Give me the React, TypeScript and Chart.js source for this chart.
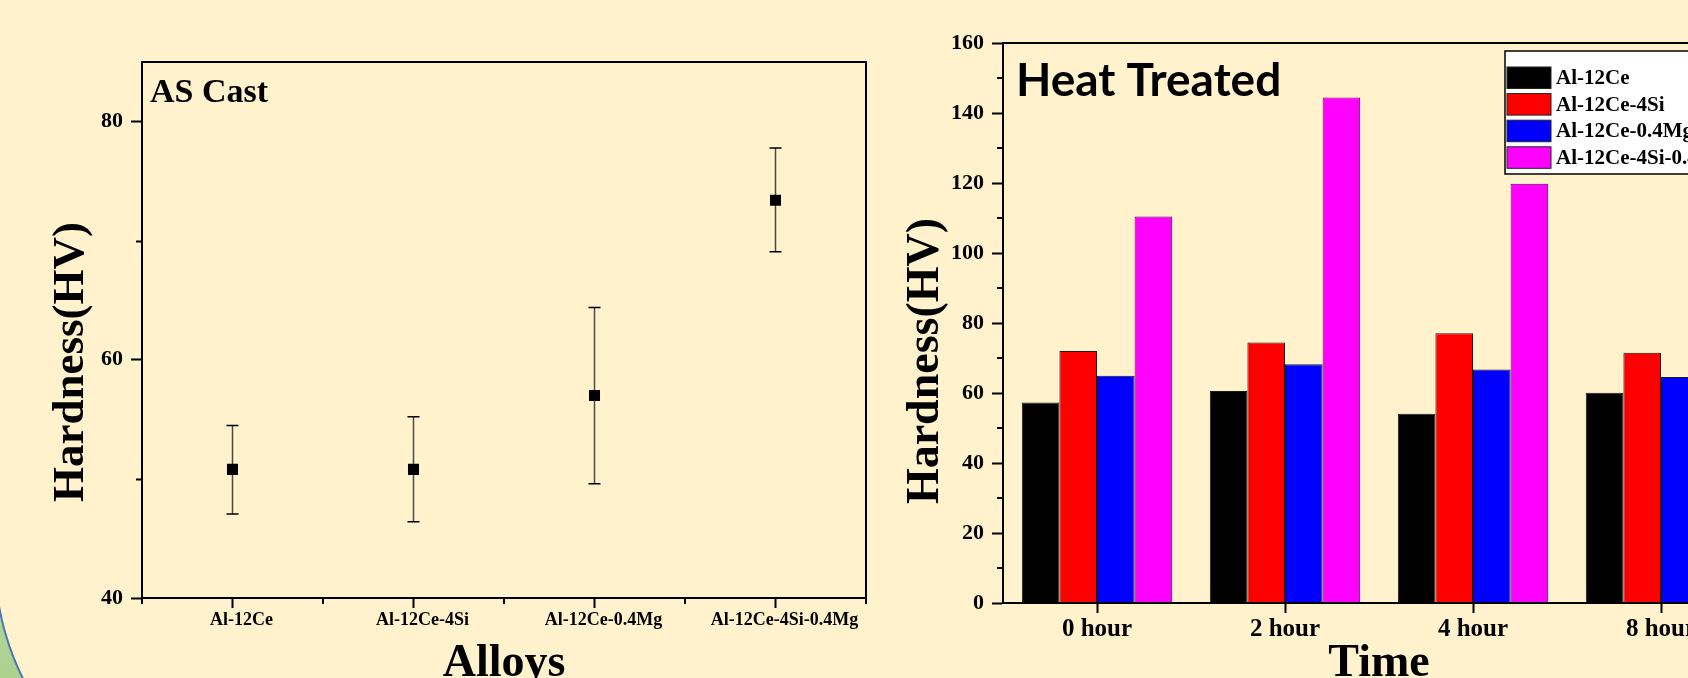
import React, { useEffect, useRef } from 'react';
import { Chart, registerables } from 'chart.js';

Chart.register(...registerables);

// ---------- Left chart data (AS Cast) ----------
const alloys = ['Al-12Ce', 'Al-12Ce-4Si', 'Al-12Ce-0.4Mg', 'Al-12Ce-4Si-0.4Mg'];
const asCastHardness = [50.8, 50.8, 57.0, 73.4];
const asCastErrLow = [47.05, 46.4, 49.6, 69.06];
const asCastErrHigh = [54.48, 55.21, 64.38, 77.79];
const asCastMinorTicks = [50, 70];

// ---------- Right chart data (Heat Treated) ----------
const times = ['0 hour', '2 hour', '4 hour', '8 hour'];
const seriesNames = ['Al-12Ce', 'Al-12Ce-4Si', 'Al-12Ce-0.4Mg', 'Al-12Ce-4Si-0.4Mg'];
const al12Ce = [57.3, 60.6, 54.1, 60.1];
const al12Ce4Si = [72.0, 74.4, 77.1, 71.5];
const al12Ce04Mg = [64.9, 68.2, 66.7, 64.6];
const al12Ce4Si04Mg = [110.4, 144.4, 119.8, 112.0];
const seriesColors = ['#000000', '#FF0000', '#0000FF', '#FF00FF'];
const heatMinorTicks = [10, 30, 50, 70, 90, 110, 130, 150];

const SERIF = '"Liberation Serif", "Times New Roman", serif';
const yTitle = 'Hardness(HV)';

const leftPlugin = {
  id: 'leftDecor',
  beforeDatasetsDraw(chart: any) {
    const ctx = chart.ctx;
    const xs = chart.scales.x;
    const ys = chart.scales.y;
    ctx.save();
    for (let i = 0; i < alloys.length; i++) {
      const px = xs.getPixelForValue(i);
      const yl = ys.getPixelForValue(asCastErrLow[i]);
      const yh = ys.getPixelForValue(asCastErrHigh[i]);
      ctx.strokeStyle = '#4a4a4a';
      ctx.lineWidth = 1.5;
      ctx.beginPath();
      ctx.moveTo(px, yl);
      ctx.lineTo(px, yh);
      ctx.stroke();
      ctx.strokeStyle = '#000';
      ctx.beginPath();
      ctx.moveTo(px - 6, yl);
      ctx.lineTo(px + 6, yl);
      ctx.moveTo(px - 6, yh);
      ctx.lineTo(px + 6, yh);
      ctx.stroke();
    }
    ctx.restore();
  },
  afterDraw(chart: any) {
    const ctx = chart.ctx;
    const a = chart.chartArea;
    const xs = chart.scales.x;
    const ys = chart.scales.y;
    ctx.save();
    ctx.strokeStyle = '#000';
    ctx.lineWidth = 2;
    ctx.strokeRect(a.left, a.top, a.right - a.left, a.bottom - a.top);
    // minor y ticks
    ctx.beginPath();
    asCastMinorTicks.forEach((v) => {
      const py = Math.round(ys.getPixelForValue(v)) + 0.5;
      ctx.moveTo(a.left - 6, py);
      ctx.lineTo(a.left, py);
    });
    // minor x ticks at category boundaries
    const n = alloys.length;
    const step = (xs.getPixelForValue(1) - xs.getPixelForValue(0));
    for (let i = 0; i <= n; i++) {
      const px = Math.round(xs.getPixelForValue(0) - step / 2 + i * step);
      ctx.moveTo(px, a.bottom);
      ctx.lineTo(px, a.bottom + 6);
    }
    ctx.lineWidth = 2;
    ctx.stroke();
    // inner label
    ctx.fillStyle = '#000';
    ctx.font = `bold 34px ${SERIF}`;
    ctx.textAlign = 'left';
    ctx.textBaseline = 'alphabetic';
    ctx.fillText('AS Cast', a.left + 8, a.top + 40);
    // y title
    ctx.save();
    ctx.translate(83, 362);
    ctx.rotate(-Math.PI / 2);
    ctx.font = `bold 45px ${SERIF}`;
    ctx.textAlign = 'center';
    ctx.fillText(yTitle, 0, 0);
    ctx.restore();
    ctx.restore();
  },
};

const rightPlugin = {
  id: 'rightDecor',
  afterDraw(chart: any) {
    const ctx = chart.ctx;
    const a = chart.chartArea;
    const ys = chart.scales.y;
    ctx.save();
    ctx.strokeStyle = '#000';
    ctx.lineWidth = 2;
    ctx.strokeRect(a.left, a.top, a.right - a.left, a.bottom - a.top);
    ctx.beginPath();
    heatMinorTicks.forEach((v) => {
      const py = Math.round(ys.getPixelForValue(v));
      ctx.moveTo(a.left - 6, py);
      ctx.lineTo(a.left, py);
    });
    ctx.stroke();
    // inner label
    ctx.fillStyle = '#000';
    ctx.font = `bold 46px Lato, "Open Sans", sans-serif`;
    ctx.textAlign = 'left';
    ctx.textBaseline = 'alphabetic';
    ctx.fillText('Heat Treated', a.left + 13, a.top + 53);
    // legend
    const lx = 625;
    const ly = 51;
    ctx.fillStyle = '#ffffff';
    ctx.fillRect(lx, ly, 300, 123);
    ctx.lineWidth = 1.5;
    ctx.strokeStyle = '#000';
    ctx.strokeRect(lx, ly, 300, 123);
    chart.data.datasets.forEach((ds: any, i: number) => {
      const y0 = 67 + i * 26.6;
      ctx.fillStyle = ds.backgroundColor;
      ctx.fillRect(lx + 2, y0, 44, 21.5);
      ctx.lineWidth = 1;
      ctx.strokeStyle = '#222';
      ctx.strokeRect(lx + 2, y0, 44, 21.5);
      ctx.fillStyle = '#000';
      ctx.font = `bold 21px ${SERIF}`;
      ctx.textBaseline = 'middle';
      ctx.fillText(ds.label, lx + 51, y0 + 11.5);
    });
    // y title
    ctx.save();
    ctx.translate(58, 361);
    ctx.rotate(-Math.PI / 2);
    ctx.font = `bold 46px ${SERIF}`;
    ctx.textAlign = 'center';
    ctx.textBaseline = 'alphabetic';
    ctx.fillText(yTitle, 0, 0);
    ctx.restore();
    ctx.restore();
  },
};

function axisFont(size: number) {
  return { family: SERIF, weight: 'bold' as const, size };
}

export default function App() {
  const leftRef = useRef<HTMLCanvasElement>(null);
  const rightRef = useRef<HTMLCanvasElement>(null);

  useEffect(() => {
    document.body.style.margin = '0';
    document.body.style.overflow = 'hidden';

    const left = new Chart(leftRef.current as HTMLCanvasElement, {
      type: 'line',
      data: {
        labels: alloys,
        datasets: [
          {
            label: 'AS Cast',
            data: asCastHardness,
            showLine: false,
            pointStyle: 'rect',
            pointRadius: 7.8,
            pointHoverRadius: 7.8,
            pointBackgroundColor: '#000',
            pointBorderWidth: 0,
            borderColor: '#000',
          },
        ],
      },
      options: {
        responsive: false,
        animation: false,
        layout: { padding: { left: 0, top: 62, right: 14, bottom: 0 } },
        plugins: { legend: { display: false }, tooltip: { enabled: false } },
        scales: {
          x: {
            type: 'category',
            offset: true,
            afterFit: (s: any) => { s.height = 80; },
            border: { color: '#000', width: 2 },
            grid: { offset: false, drawOnChartArea: false, drawTicks: true, tickLength: 10, tickColor: '#000', tickWidth: 2 },
            ticks: { color: '#000', font: axisFont(18), padding: 2, labelOffset: 9, autoSkip: false, maxRotation: 0 },
            title: { display: true, text: 'Alloys', color: '#000', font: { ...axisFont(46), lineHeight: 0.62 }, padding: 0 },
          },
          y: {
            min: 40,
            max: 85,
            afterFit: (s: any) => { s.width = 142; },
            border: { color: '#000', width: 2 },
            grid: { drawOnChartArea: false, drawTicks: true, tickLength: 11, tickColor: '#000', tickWidth: 2 },
            ticks: { stepSize: 20, includeBounds: false, color: '#000', font: axisFont(22), padding: 8 },
          },
        },
      },
      plugins: [leftPlugin],
    } as any);

    const seriesData = [al12Ce, al12Ce4Si, al12Ce04Mg, al12Ce4Si04Mg];
    const right = new Chart(rightRef.current as HTMLCanvasElement, {
      type: 'bar',
      data: {
        labels: times,
        datasets: seriesNames.map((name, i) => ({
          label: name,
          data: seriesData[i],
          backgroundColor: seriesColors[i],
          borderColor: i === 3 ? '#5a005a' : '#1a1a1a',
          borderWidth: 1,
          barPercentage: 1,
          categoryPercentage: 0.8,
        })),
      },
      options: {
        responsive: false,
        animation: false,
        layout: { padding: { left: 0, top: 43, right: 45, bottom: 0 } },
        plugins: { legend: { display: false }, tooltip: { enabled: false } },
        scales: {
          x: {
            type: 'category',
            offset: true,
            afterFit: (s: any) => { s.height = 75; },
            border: { color: '#000', width: 2 },
            grid: { offset: false, drawOnChartArea: false, drawTicks: true, tickLength: 10, tickColor: '#000', tickWidth: 2 },
            ticks: { color: '#000', font: axisFont(25), padding: 2, autoSkip: false, maxRotation: 0 },
            title: { display: true, text: 'Time', color: '#000', font: { ...axisFont(46), lineHeight: 0.62 }, padding: 0 },
          },
          y: {
            min: 0,
            max: 160,
            afterFit: (s: any) => { s.width = 123; },
            border: { color: '#000', width: 2 },
            grid: { drawOnChartArea: false, drawTicks: true, tickLength: 11, tickColor: '#000', tickWidth: 2 },
            ticks: { stepSize: 20, color: '#000', font: axisFont(22), padding: 8 },
          },
        },
      },
      plugins: [rightPlugin],
    } as any);

    return () => {
      left.destroy();
      right.destroy();
    };
  }, []);

  return (
    <div
      style={{
        position: 'fixed',
        left: 0,
        top: 0,
        width: 1688,
        height: 678,
        overflow: 'hidden',
        background: 'linear-gradient(160deg, #C9E2B5 0%, #93C36E 100%)',
      }}
    >
      <div
        style={{
          position: 'absolute',
          left: -6,
          top: -300,
          width: 2000,
          height: 1126,
          background: '#FFF2CC',
          borderBottomLeftRadius: 266,
          border: '2.5px solid #4A77B4',
          boxSizing: 'border-box',
        }}
      />
      <canvas ref={leftRef} width={880} height={678} style={{ position: 'absolute', left: 0, top: 0 }} />
      <canvas ref={rightRef} width={920} height={678} style={{ position: 'absolute', left: 880, top: 0 }} />
    </div>
  );
}
